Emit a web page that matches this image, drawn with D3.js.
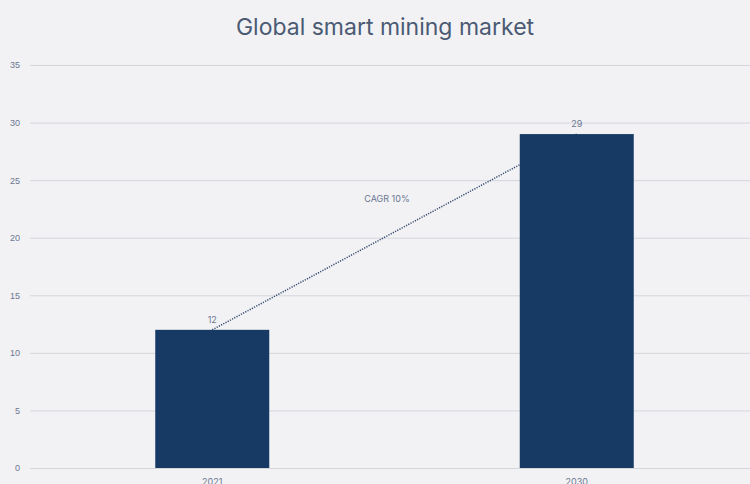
<!DOCTYPE html>
<html>
<head>
<meta charset="utf-8">
<script src="https://cdn.jsdelivr.net/npm/d3@7"></script>
<style>
  body { margin: 0; background: #f2f2f5; }
  svg { display: block; font-family: Inter, "Noto Sans", sans-serif; }
</style>
</head>
<body>
<div id="chart-area"></div>
<script>
// chart data
var years = ["2021", "2030"];
var marketValues = [12, 29];
var yTicks = [0, 5, 10, 15, 20, 25, 30, 35];
var cagrLabel = "CAGR 10%";
var chartTitle = "Global smart mining market";

var width = 750, height = 484;
var margin = { left: 30, right: 0, top: 65, bottom: 16 };

var svg = d3.select("#chart-area").append("svg")
    .attr("width", width)
    .attr("height", height);

svg.append("rect")
    .attr("width", width)
    .attr("height", height)
    .attr("fill", "#f2f2f5");

var x = d3.scalePoint()
    .domain(years)
    .range([30, 759])
    .padding(0.5);

var barWidth = 114;

var y = d3.scaleLinear()
    .domain([0, 35])
    .range([468, 65]);

// gridlines + y labels
var yAxis = d3.axisLeft(y)
    .tickValues(yTicks)
    .tickSize(-(width - margin.left))
    .tickPadding(10);

var gy = svg.append("g")
    .attr("transform", "translate(" + margin.left + ",0)")
    .call(yAxis);
gy.select(".domain").remove();
gy.selectAll(".tick line").attr("stroke", "#d4d6dc").attr("stroke-width", 1);
gy.selectAll(".tick text")
    .attr("fill", "#6b7790")
    .style("font-size", "9px");

// trend line between bar tops (behind bars)
svg.append("line")
    .attr("x1", x(years[0]))
    .attr("y1", y(marketValues[0]))
    .attr("x2", x(years[1]))
    .attr("y2", y(marketValues[1]))
    .attr("stroke", "#34496d")
    .attr("stroke-width", 1.5)
    .attr("stroke-dasharray", "1.2,1.3");

svg.selectAll("rect.bar")
    .data(marketValues)
    .enter()
    .append("rect")
    .attr("class", "bar")
    .attr("x", (d, i) => x(years[i]) - barWidth / 2)
    .attr("y", (d) => y(d))
    .attr("width", barWidth)
    .attr("height", (d) => y(0) - y(d))
    .attr("fill", "#163a63");

// value labels
svg.selectAll("text.val")
    .data(marketValues)
    .enter()
    .append("text")
    .attr("class", "val")
    .attr("x", (d, i) => x(years[i]))
    .attr("y", (d) => y(d) - 7)
    .attr("text-anchor", "middle")
    .attr("fill", "#6b7790")
    .style("font-size", "9px")
    .text((d) => d);

// x labels (cut off at the bottom edge, as in the source)
svg.selectAll("text.xl")
    .data(years)
    .enter()
    .append("text")
    .attr("class", "xl")
    .attr("x", (d) => x(d))
    .attr("y", 485)
    .attr("text-anchor", "middle")
    .attr("fill", "#6b7790")
    .style("font-size", "9px")
    .text((d) => d);

// CAGR label
svg.append("text")
    .attr("x", 387)
    .attr("y", 202)
    .attr("text-anchor", "middle")
    .attr("fill", "#6b7790")
    .style("font-size", "9px")
    .text(cagrLabel);

// title
svg.append("text")
    .attr("x", 385)
    .attr("y", 35)
    .attr("text-anchor", "middle")
    .attr("fill", "#4b5a73")
    .style("font-size", "23px")
    .text(chartTitle);
</script>
</body>
</html>
